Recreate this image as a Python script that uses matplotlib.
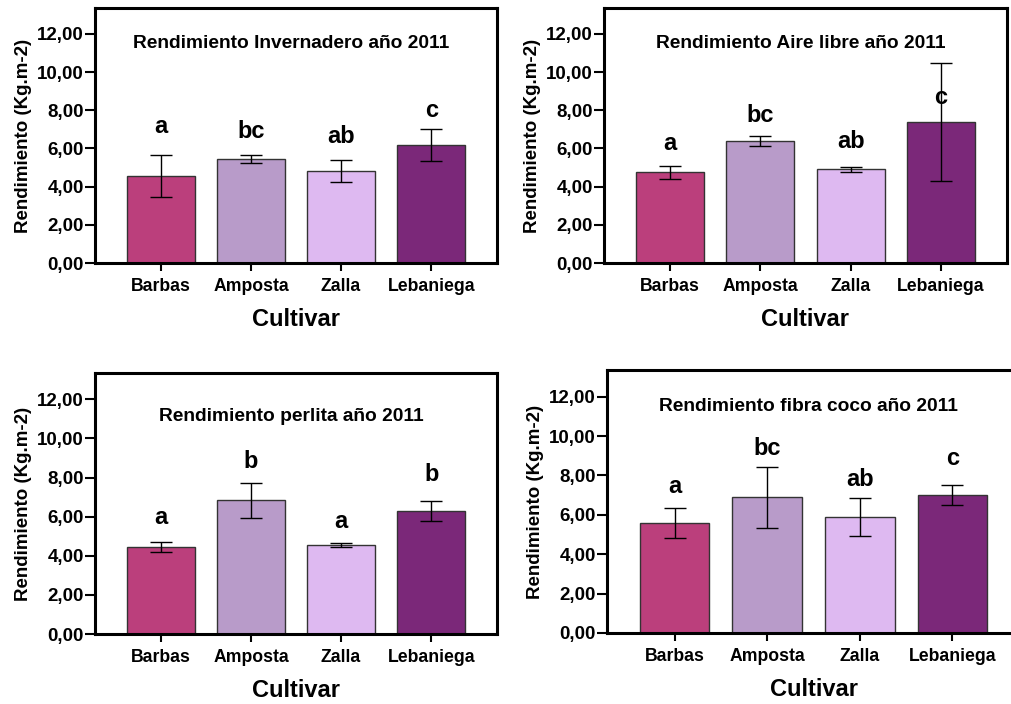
import matplotlib
matplotlib.use("Agg")
import matplotlib.pyplot as plt

plt.rcParams['font.family'] = ['Liberation Sans', 'DejaVu Sans']
plt.rcParams['font.weight'] = 'bold'

cultivares = ["Barbas", "Amposta", "Zalla", "Lebaniega"]
colores = ["#BB3F7C", "#B89BC9", "#DEB9F1", "#7B2879"]

titulos = [
    "Rendimiento Invernadero año 2011",
    "Rendimiento Aire libre año 2011",
    "Rendimiento perlita año 2011",
    "Rendimiento fibra coco año 2011",
]

# medias y error de cada ensayo
inv_media = [4.57, 5.44, 4.83, 6.17]
inv_err = [1.09, 0.20, 0.58, 0.84]
inv_letras = ["a", "bc", "ab", "c"]

aire_media = [4.74, 6.39, 4.91, 7.37]
aire_err = [0.32, 0.25, 0.13, 3.10]
aire_letras = ["a", "bc", "ab", "c"]

perl_media = [4.44, 6.84, 4.56, 6.29]
perl_err = [0.27, 0.90, 0.11, 0.50]
perl_letras = ["a", "b", "a", "b"]

coco_media = [5.58, 6.90, 5.88, 7.00]
coco_err = [0.78, 1.55, 0.98, 0.49]
coco_letras = ["a", "bc", "ab", "c"]

medias = [inv_media, aire_media, perl_media, coco_media]
errores = [inv_err, aire_err, perl_err, coco_err]
letras = [inv_letras, aire_letras, perl_letras, coco_letras]

# altura de las letras de significación
letras_y = [
    [7.14, 6.88, 6.62, 7.96],
    [6.24, 7.70, 6.36, 8.66],
    [5.98, 8.84, 5.76, 8.15],
    [7.46, 9.37, 7.80, 8.86],
]
titulo_y = [11.5, 11.5, 11.1, 11.5]

# [left, bottom, width, height]
posiciones = [
    [0.094, 0.6264, 0.3976, 0.3622],
    [0.5974, 0.6264, 0.3986, 0.3622],
    [0.094, 0.0994, 0.3976, 0.3708],
    [0.6004, 0.1009, 0.4085, 0.3735],
]

fig = plt.figure(figsize=(10.11, 7.04), dpi=100)

for i in range(4):
    ax = fig.add_axes(posiciones[i])
    x = range(len(cultivares))
    ax.bar(x, medias[i], width=0.75, color=colores, edgecolor="#333333",
           linewidth=1.0, zorder=2)
    ax.errorbar(x, medias[i], yerr=errores[i], fmt="none", ecolor="black",
                elinewidth=1.0, capsize=8, capthick=1.0, zorder=3)
    for j in x:
        ax.text(j, letras_y[i][j], letras[i][j], ha="center", va="center",
                fontsize=17, fontweight="bold")
    ax.text(1.45, titulo_y[i], titulos[i], ha="center", va="center",
            fontsize=13.8, fontweight="bold")

    ax.set_xlim(-0.73, 3.73)
    ax.set_ylim(0, 13.35)
    ax.set_yticks([0, 2, 4, 6, 8, 10, 12])
    ax.set_yticklabels(["0,00", "2,00", "4,00", "6,00", "8,00", "10,00", "12,00"])
    ax.set_xticks(list(x))
    ax.set_xticklabels(cultivares)
    ax.tick_params(axis="y", length=7, width=1.5, pad=1, labelsize=13.5)
    ax.tick_params(axis="x", length=6, width=1.5, pad=5, labelsize=12.7)
    for s in ax.spines.values():
        s.set_linewidth(2.2)
    ax.set_ylabel("Rendimiento (Kg.m-2)", fontsize=13.5, fontweight="bold",
                  labelpad=4)
    ax.set_xlabel("Cultivar", fontsize=17, fontweight="bold", labelpad=9)

fig.savefig("out.png", dpi=100)
